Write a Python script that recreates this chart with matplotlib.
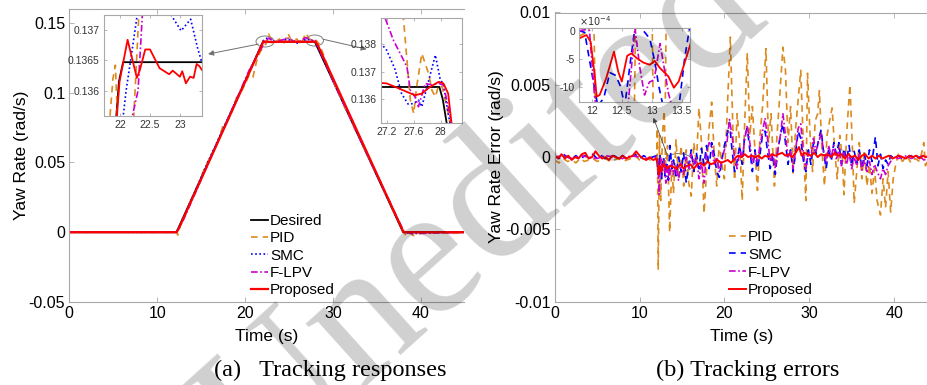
import numpy as np
import matplotlib.pyplot as plt
from matplotlib.patches import Ellipse

plt.rcParams['font.family'] = ['Liberation Sans', 'DejaVu Sans']
plt.rcParams['axes.unicode_minus'] = False

# ---------------- data : (a) tracking responses ----------------
desired_t = [0, 12.2, 22.05, 27.95, 38.0, 45]
desired_y = [0, 0, 0.1365, 0.1365, 0, 0]

pid_t = [0, 12.2, 12.35, 12.6, 13.0, 13.5, 14.0, 14.5, 15.0, 15.5, 16.0, 16.5, 17.0, 17.5, 18.0,
         18.5, 19.0, 19.5, 20.0, 20.5, 20.9, 21.3, 21.7, 22.1, 22.4, 22.7, 23.0, 23.4, 23.9, 24.4,
         24.9, 25.3, 25.9, 26.4, 26.9, 27.3, 27.7, 28.1, 28.5, 29.0, 29.5, 30.0, 30.5, 31.0, 31.5,
         32.0, 32.5, 33.0, 33.5, 34.0, 34.5, 35.0, 35.5, 36.0, 36.5, 37.0, 37.5, 38.0, 38.4, 38.8,
         39.2, 39.6, 40.2, 41, 42, 43.5, 45]
pid_y = [0, 0, -0.002, 0.004, 0.0095, 0.0165, 0.0255, 0.0305, 0.0395, 0.0475, 0.0535, 0.0590,
         0.0665, 0.0765, 0.0795, 0.0860, 0.0960, 0.1000, 0.1060, 0.1130, 0.1110, 0.1220, 0.1290,
         0.1330, 0.1350, 0.1420, 0.1380, 0.1360, 0.1385, 0.1350, 0.1425, 0.1370, 0.1385, 0.1345,
         0.1428, 0.1390, 0.1365, 0.1375, 0.1345, 0.1260, 0.1175, 0.1090, 0.1010, 0.0960, 0.0870,
         0.0820, 0.0735, 0.0690, 0.0605, 0.0545, 0.0480, 0.0410, 0.0355, 0.0265, 0.0220, 0.0130,
         0.0080, 0.0010, -0.0030, -0.0005, -0.0025, -0.0020, 0.0, -0.0005, 0.0, -0.001, 0]

smc_t = [0, 12.2, 13, 15.5, 18, 20.6, 22.1, 22.6, 23.5, 24.8, 26.0, 27.0, 27.95, 30, 35, 38.05, 38.6, 40, 45]
smc_y = [0, 0, 0.0105, 0.0465, 0.081, 0.1165, 0.1375, 0.1395, 0.136, 0.1385, 0.1355, 0.1385,
         0.1368, 0.110, 0.0415, 0.0002, -0.0005, 0, 0]

lpv_t = [0, 12.2, 13, 17, 20.5, 22.2, 22.7, 23.5, 24.9, 26.0, 26.9, 27.6, 28.0, 31, 35, 38.1, 39, 45]
lpv_y = [0, 0, 0.009, 0.066, 0.1165, 0.1355, 0.1392, 0.1365, 0.139, 0.1358, 0.1395, 0.1378,
         0.1372, 0.095, 0.041, 0.0005, -0.001, 0]

prop_t = [0, 12.2, 12.4, 22.1, 23.0, 25.0, 27.0, 28.0, 28.3, 38.05, 45]
prop_y = [0, 0, 0.0018, 0.1368, 0.1363, 0.1366, 0.1365, 0.1366, 0.1340, 0.0, 0]

# zoom window 1 (around t = 22 s)
z1_des_t = [21.93, 21.98, 22.05, 23.4]
z1_des_y = [0.1355, 0.13615, 0.13647, 0.13647]
z1_pid_t = [21.8, 21.88, 21.92, 21.97, 22.22, 22.32]
z1_pid_y = [0.1352, 0.1362, 0.13642, 0.1352, 0.1354, 0.1374]
z1_smc_t = [22.03, 22.1, 22.22, 22.3, 22.6, 22.84, 23.02, 23.18, 23.3, 23.37]
z1_smc_y = [0.1354, 0.1360, 0.1368, 0.13735, 0.1380, 0.13727, 0.13699, 0.13718, 0.13669, 0.13646]
z1_lpv_t = [22.1, 22.2, 22.3, 22.38]
z1_lpv_y = [0.1355, 0.13556, 0.1360, 0.1374]
z1_prop_t = [21.94, 21.99, 22.125, 22.28, 22.33, 22.42, 22.5, 22.66, 22.71, 22.82, 22.88, 23.0,
             23.04, 23.1, 23.17, 23.23, 23.28, 23.33, 23.37]
z1_prop_y = [0.1355, 0.13615, 0.13684, 0.13621, 0.13634, 0.13668, 0.13668, 0.13637, 0.13634,
             0.13627, 0.13633, 0.13623, 0.13632, 0.13612, 0.13623, 0.13621, 0.13644, 0.13640, 0.13634]

# zoom window 2 (around t = 28 s)
z2_des_t = [27.1, 27.98, 28.03, 28.09]
z2_des_y = [0.13645, 0.13645, 0.1360, 0.1351]
z2_pid_t = [27.35, 27.45, 27.55, 27.6, 27.64, 27.72, 27.77, 27.82, 27.87, 27.92, 27.97, 28.02, 28.09, 28.14]
z2_pid_y = [0.1395, 0.1389, 0.13597, 0.13548, 0.1364, 0.13767, 0.1373, 0.13694, 0.13633, 0.13609,
            0.13652, 0.13645, 0.13573, 0.1351]
z2_smc_t = [27.11, 27.2, 27.32, 27.42, 27.52, 27.6, 27.67, 27.72, 27.79, 27.92, 27.99, 28.04, 28.11, 28.14]
z2_smc_y = [0.13805, 0.13779, 0.13712, 0.13621, 0.13582, 0.13585, 0.13597, 0.13573, 0.13639,
            0.13761, 0.13676, 0.13652, 0.13548, 0.1351]
z2_lpv_t = [27.18, 27.3, 27.4, 27.5, 27.55, 27.62, 27.67, 27.77, 27.87, 27.97, 28.04, 28.09, 28.16]
z2_lpv_y = [0.13894, 0.13815, 0.13767, 0.13718, 0.13633, 0.13609, 0.13573, 0.13658, 0.13652,
            0.13658, 0.13652, 0.13597, 0.1351]
z2_prop_t = [27.11, 27.2, 27.35, 27.5, 27.62, 27.72, 27.84, 27.97, 28.04, 28.11, 28.16]
z2_prop_y = [0.1366, 0.13658, 0.13643, 0.13627, 0.13615, 0.13621, 0.13645, 0.13664, 0.13658,
             0.13621, 0.13512]

# ---------------- data : (b) tracking errors (x 1e-3 rad/s) ----------------
pid_et = [0, 0.5, 1, 1.5, 2, 2.5, 3, 3.5, 4, 4.5, 5, 5.5, 6, 6.5, 7, 7.5, 8, 8.5, 9, 9.5, 10, 10.5,
          11, 11.5, 12, 12.1, 12.2, 12.35, 12.5, 12.7, 12.9, 13.1, 13.3, 13.55, 13.8, 14.0, 14.3,
          14.6, 14.9, 15.2, 15.5, 15.8, 16.1, 16.4, 16.7, 17.0, 17.3, 17.6, 17.9, 18.2, 18.5, 18.8,
          19.1, 19.4, 19.7, 20.0, 20.4, 20.7, 21.0, 21.2, 21.5, 21.8, 22.1, 22.4, 22.7, 23.0, 23.3,
          23.6, 23.9, 24.2, 24.5, 24.9, 25.2, 25.5, 25.9, 26.2, 26.5, 26.9, 27.2, 27.5, 27.8, 28.1,
          28.4, 28.7, 29.0, 29.3, 29.6, 29.8, 30.1, 30.4, 30.7, 31.0, 31.2, 31.5, 31.8, 32.1, 32.4,
          32.7, 33.0, 33.3, 33.6, 33.9, 34.1, 34.4, 34.8, 35.1, 35.3, 35.6, 35.9, 36.2, 36.5, 36.8,
          37.1, 37.4, 37.7, 38.0, 38.4, 38.7, 39.0, 39.3, 39.6, 39.9, 40.2, 40.5, 41, 41.5, 42, 42.5,
          43, 43.3, 43.5, 43.7, 44]
pid_e = [-0.2, -0.4, -0.1, -0.3, -0.2, -0.4, -0.1, -0.3, -0.2, -0.1, -0.3, -0.2, -0.1, -0.3, -0.2,
         -0.1, -0.3, -0.2, -0.1, 0.1, -0.2, -0.2, -0.1, -0.3, -0.2, 2.0, -7.8, 1.5, -3.0, 1.5, 3.2,
         -1.0, 0.8, -5.2, -0.5, -2.5, 1.2, -1.5, 0.8, -2.0, 0.5, -1.8, -2.7, 1.0, -0.5, 3.4, 1.0,
         -3.9, -1.0, 2.0, 3.8, 0.2, -2.0, 1.0, -0.5, -1.5, 4.0, 8.3, 2.0, -1.6, 3.0, 1.0, -3.0, 2.5,
         7.2, 1.5, 3.5, 0.5, -2.3, 1.5, 3.5, 7.5, 1.0, 3.0, -2.0, 1.5, 4.0, 7.6, 6.0, 1.0, 3.5, -1.1,
         2.0, 4.0, 6.0, 1.0, -3.0, 5.8, 1.5, -1.0, 2.5, 3.0, 4.6, 0.5, -2.0, 1.5, 2.5, 3.4, 0.5,
         -1.5, 1.5, 0.0, -2.6, 1.5, 5.0, 0.5, -3.2, -1.0, 1.0, -1.5, 0.5, -2.0, -0.5, -2.5, -0.8,
         -3.0, -4.0, -1.5, -3.5, -1.0, -3.8, -1.5, -0.5, 0.2, -0.3, 0.1, -0.4, -0.1, -0.3, 0.4, 1.0,
         -0.6, -0.2]

smc_et = [0, 0.5, 1, 1.5, 2, 2.5, 3, 3.5, 4, 4.5, 5, 5.5, 6, 6.5, 7, 7.5, 8, 8.5, 9, 9.5, 10, 10.5,
          11, 11.5, 12, 12.2, 12.4, 12.6, 12.8, 13.0, 13.2, 13.4, 13.6, 13.8, 14.0, 14.3, 14.6, 14.9,
          15.2, 15.5, 15.8, 16.1, 16.4, 16.7, 17.0, 17.3, 17.6, 17.9, 18.2, 18.5, 18.8, 19.1, 19.4,
          19.7, 20.0, 20.3, 20.6, 20.9, 21.2, 21.5, 21.8, 22.1, 22.4, 22.7, 23.0, 23.3, 23.6, 23.9,
          24.2, 24.5, 24.8, 25.1, 25.4, 25.7, 26.0, 26.3, 26.6, 26.9, 27.2, 27.5, 27.8, 28.1, 28.4,
          28.7, 29.0, 29.3, 29.6, 29.9, 30.2, 30.5, 30.8, 31.1, 31.4, 31.7, 32.0, 32.3, 32.6, 32.9,
          33.2, 33.5, 33.8, 34.1, 34.4, 34.7, 35.0, 35.3, 35.6, 35.9, 36.2, 36.5, 36.8, 37.1, 37.4,
          37.8, 38.1, 38.4, 38.7, 39.0, 39.3, 39.6, 40.0, 40.5, 41, 41.5, 42, 42.5, 43, 43.5, 44]
smc_e = [0.1, -0.1, 0.2, 0.0, -0.1, 0.1, -0.2, 0.1, 0.0, 0.2, -0.1, 0.1, -0.1, 0.0, 0.1, -0.1, 0.1,
         -0.1, 0.0, 0.2, -0.1, 0.1, -0.1, 0.0, 0.1, -1.2, 0.2, -1.5, 0.0, -1.3, -0.3, -1.6, 0.8,
         -0.8, -0.2, -1.3, 0.0, -1.0, 0.3, -1.8, -0.5, 0.5, -1.0, 0.3, -0.8, 0.6, -0.5, 0.8, -0.8,
         1.0, 0.2, -1.0, -1.4, -0.2, 0.8, 1.5, 2.4, 0.5, -1.0, -0.3, 0.8, -0.5, 1.5, 2.0, 0.5, -1.0,
         0.5, -0.8, 0.2, 1.6, 1.8, 0.3, -0.8, 0.2, -1.2, 0.5, 1.5, 2.3, 1.0, -0.5, 0.5, -1.0, 0.3,
         1.8, 1.3, -0.2, -1.0, 0.5, -0.5, 1.0, 0.2, 1.2, 1.9, 0.3, -0.8, 0.6, -0.3, 1.0, 0.2, 1.0,
         -0.5, 0.6, -0.2, 0.8, -0.6, 0.4, -0.4, 0.5, -0.8, 0.2, -0.6, 0.5, -0.3, 1.4, -0.6, 0.2,
         -0.8, -0.2, -0.5, 0.1, -0.1, 0.1, -0.1, 0.0, 0.1, -0.1, 0.0, 0.1, 0.0]

lpv_et = [0, 1, 2, 3, 4, 5, 6, 7, 8, 9, 10, 11, 12, 12.2, 12.3, 12.5, 12.7, 12.9, 13.1, 13.3, 13.5,
          13.8, 14.0, 14.3, 14.6, 14.9, 15.2, 15.5, 15.8, 16.1, 16.4, 16.7, 17.0, 17.3, 17.6, 17.9,
          18.2, 18.5, 18.8, 19.1, 19.4, 19.7, 20.0, 20.3, 20.6, 20.9, 21.2, 21.5, 21.8, 22.1, 22.4,
          22.7, 23.0, 23.3, 23.6, 23.9, 24.2, 24.5, 24.8, 25.1, 25.4, 25.7, 26.0, 26.3, 26.6, 26.9,
          27.2, 27.5, 27.8, 28.1, 28.4, 28.7, 29.0, 29.3, 29.6, 29.9, 30.2, 30.5, 30.8, 31.1, 31.4,
          31.7, 32.0, 32.3, 32.6, 32.9, 33.2, 33.5, 33.8, 34.1, 34.4, 34.7, 35.0, 35.3, 35.6, 35.9,
          36.2, 36.5, 36.8, 37.1, 37.4, 37.7, 38.0, 38.4, 38.7, 39.0, 39.3, 39.6, 40.0, 40.5, 41,
          41.5, 42, 42.5, 43, 43.5, 44]
lpv_e = [0.0, 0.1, -0.1, 0.1, 0.0, -0.1, 0.1, 0.0, -0.1, 0.1, 0.0, -0.1, 0.0, -0.5, -2.6, 0.0,
         -1.0, -0.2, -1.8, -0.5, -1.5, -0.3, -1.2, -0.6, -1.6, -0.4, -1.2, 0.0, -0.8, 0.2, -0.5,
         0.0, -1.5, -0.3, -1.8, 0.3, 1.0, 0.8, -0.5, 0.0, -1.0, -0.2, 0.5, 1.0, 2.6, 1.5, 0.0,
         -0.8, 0.5, 0.0, 1.2, 2.2, 1.0, -0.5, 0.3, -0.3, 0.8, 1.8, 2.7, 1.2, -0.3, 0.3, -0.8, 0.5,
         1.5, 3.0, 1.5, 0.0, 0.5, -0.8, 0.5, 2.0, 2.3, 0.3, -0.8, 0.3, 0.0, 1.3, 0.4, 1.0, 1.6, 0.4,
         -0.4, 0.8, 0.0, 0.8, -0.2, 0.6, -0.6, 0.3, -0.5, 0.3, -0.8, 0.0, -0.6, 0.2, -0.9, -0.2,
         -1.0, -0.3, -1.2, -0.5, -1.0, -1.5, -0.8, -1.2, -0.6, -0.3, 0.0, -0.1, 0.0, 0.1, -0.1, 0.0,
         0.1, -0.2, -0.1]

prop_et = [0, 0.4, 0.8, 1.2, 1.6, 2.0, 2.4, 2.8, 3.2, 3.6, 4.0, 4.4, 4.8, 5.2, 5.6, 6.0, 6.4, 6.8,
           7.2, 7.6, 8.0, 8.4, 8.8, 9.2, 9.6, 10.0, 10.4, 10.8, 11.2, 11.6, 12.0, 12.15, 12.25,
           12.4, 12.6, 12.8, 13.0, 13.3, 13.6, 14.0, 14.4, 14.8, 15.2, 15.6, 16.0, 16.4, 16.8,
           17.2, 17.6, 18.0, 18.4, 18.8, 19.2, 19.6, 20.0, 20.4, 20.8, 21.2, 21.6, 22.0, 22.4,
           22.8, 23.2, 23.6, 24.0, 24.4, 24.8, 25.2, 25.6, 26.0, 26.4, 26.8, 27.2, 27.6, 28.0,
           28.4, 28.8, 29.1, 29.4, 29.8, 30.2, 30.6, 31.0, 31.4, 31.8, 32.2, 32.6, 33.0, 33.4,
           33.8, 34.2, 34.6, 35.0, 35.4, 35.8, 36.2, 36.6, 37.0, 37.4, 37.8, 38.2, 38.6, 39.0,
           39.4, 39.8, 40.2, 40.6, 41.0, 41.4, 41.8, 42.2, 42.6, 43.0, 43.4, 43.8, 44]
prop_e = [0.1, -0.1, 0.2, -0.1, 0.1, -0.2, 0.0, -0.1, 0.2, 0.3, -0.1, 0.0, 0.4, 0.1, -0.1, 0.0,
          -0.2, 0.1, 0.0, -0.1, 0.1, -0.1, 0.0, 0.1, 0.4, 0.1, -0.1, -0.2, 0.0, -0.2, -0.1, -0.4,
          -1.2, -0.6, -1.0, -0.5, -0.6, -0.8, -0.6, -0.7, -0.8, -0.5, -0.8, -0.6, -0.5, -0.8, -0.5,
          -0.4, -0.6, -0.3, -0.5, -0.4, -0.2, -0.4, -0.3, -0.2, -0.4, -0.1, 0.1, 0.0, 0.2, 0.0, 0.1,
          0.0, 0.1, -0.1, 0.1, 0.0, 0.2, 0.1, 0.2, 0.3, 0.1, 0.2, 0.0, 0.3, 0.7, 0.1, 0.3, 0.2, 0.1,
          0.3, 0.0, 0.2, 0.1, 0.2, 0.0, 0.3, 0.1, 0.2, -0.1, 0.2, 0.0, 0.1, -0.2, 0.1, 0.2, -0.1,
          0.1, -0.1, 0.1, -0.1, 0.0, 0.1, -0.1, 0.0, 0.1, 0.0, -0.1, 0.1, 0.0, 0.1, -0.1, 0.1, 0.0,
          0.1]

# zoom window 3 (errors, x 1e-4 rad/s)
z3_pid_t = [11.79, 11.95, 12.02, 12.1, 12.68, 12.74, 13.0, 13.05, 13.2, 13.25]
z3_pid_e = [-1, 0, 10, -40, -40, 10, 10, -40, -40, 10]
z3_smc_t = [11.79, 11.88, 11.96, 12.05, 12.1, 12.2, 12.3, 12.4, 12.48, 12.55, 12.65, 12.72, 12.82,
            12.9, 12.97, 13.05, 13.12, 13.2, 13.45, 13.55, 13.64]
z3_smc_e = [0, -0.3, -5.2, -10.6, -13.5, -12, -7.5, -8, -10, -13.5, -5, 0.5, 0.5, -0.5, -1.5,
            -5.5, -10, -14, -14, -5, 1]
z3_lpv_t = [11.79, 11.9, 11.96, 12.05, 12.1, 12.6, 12.72, 12.8, 12.88, 12.96, 13.04, 13.14, 13.28, 13.35]
z3_lpv_e = [0, 0.2, 0, -12.4, -14, -14, 0.5, -6.5, -11.5, -9.2, -8.8, -2.3, -11.2, -14]
z3_prop_t = [11.79, 11.91, 11.98, 12.05, 12.08, 12.13, 12.24, 12.37, 12.44, 12.5, 12.59, 12.66,
             12.75, 12.86, 12.97, 13.05, 13.14, 13.28, 13.37, 13.45, 13.54, 13.65]
z3_prop_e = [-1.37, -0.77, -2.0, -8.2, -11.8, -11.5, -8.5, -3.75, -7.3, -9.1, -4.5, -4.05, -4.9,
             -5.7, -6.1, -5.4, -6.7, -8.2, -10.2, -9.1, -6.1, -2.3]

# ---------------- style ----------------
c_pid = '#DC8A1E'
c_smc = '#0000FF'
c_lpv = '#CC00CC'
c_prop = '#FF0000'
spine_c = '#A8A8A8'
dash = (0, (4, 3))
dot = (0, (1, 1.5))
dashdot = (0, (4, 1.5, 1, 1.5))

W, H = 928, 385
fig = plt.figure(figsize=(W / 100, H / 100), dpi=100)


def px_axes(x0, y0, x1, y1):
    return fig.add_axes([x0 / W, 1 - y1 / H, (x1 - x0) / W, (y1 - y0) / H])


def style_axes(ax, size, right=True):
    for s in ax.spines.values():
        s.set_color(spine_c)
        s.set_linewidth(0.8)
    if not right:
        ax.spines['right'].set_visible(False)
    ax.tick_params(direction='in', top=True, right=right, length=3.5, width=0.6,
                   color=spine_c, labelsize=size, pad=3, labelcolor='black')


# ---------------- (a) ----------------
axa = px_axes(69.3, 9, 464, 302)
axa.plot(desired_t, desired_y, color='black', lw=1.3, label='Desired')
axa.plot(pid_t, pid_y, color=c_pid, lw=1.2, ls=dash, label='PID')
axa.plot(smc_t, smc_y, color=c_smc, lw=1.2, ls=dot, label='SMC')
axa.plot(lpv_t, lpv_y, color=c_lpv, lw=1.2, ls=dashdot, label='F-LPV')
axa.plot(prop_t, prop_y, color=c_prop, lw=1.6, label='Proposed')
axa.set_xlim(0, 44.93)
axa.set_ylim(-0.05, 0.16)
axa.set_xticks([0, 10, 20, 30, 40])
axa.set_yticks([-0.05, 0, 0.05, 0.1, 0.15])
axa.set_yticklabels(['-0.05', '0', '0.05', '0.1', '0.15'])
style_axes(axa, 11.5, right=False)
axa.set_xlabel('Time (s)', fontsize=12.5, labelpad=6)
axa.set_ylabel('Yaw Rate (rad/s)', fontsize=12.5, labelpad=0)
axa.add_patch(Ellipse((22.28, 0.1367), 2.05, 0.0079, fill=False, ec='#808080', lw=0.7))
axa.add_patch(Ellipse((27.93, 0.1374), 2.0, 0.0079, fill=False, ec='#808080', lw=0.7))
axa.annotate('', xy=(15.8, 0.1277), xytext=(21.5, 0.1348),
             arrowprops=dict(arrowstyle='-|>', color='#707070', lw=0.7, mutation_scale=8,
                             shrinkA=0, shrinkB=0))
axa.annotate('', xy=(33.85, 0.1312), xytext=(28.9, 0.1383),
             arrowprops=dict(arrowstyle='-|>', color='#707070', lw=0.7, mutation_scale=8,
                             shrinkA=0, shrinkB=0))
axa.legend(loc='upper left', bbox_to_anchor=(251 / W, 1 - 214 / H), bbox_transform=fig.transFigure,
           frameon=False, fontsize=11, handlelength=1.1, handletextpad=0.15, labelspacing=0.22,
           borderpad=0, borderaxespad=0)

# inset 1
ia = px_axes(104, 15, 202, 116)
ia.plot(z1_des_t, z1_des_y, color='black', lw=1.3)
ia.plot(z1_pid_t, z1_pid_y, color=c_pid, lw=1.2, ls=dash)
ia.plot(z1_smc_t, z1_smc_y, color=c_smc, lw=1.2, ls=dot)
ia.plot(z1_lpv_t, z1_lpv_y, color=c_lpv, lw=1.2, ls=dashdot)
ia.plot(z1_prop_t, z1_prop_y, color=c_prop, lw=1.3)
ia.set_xlim(21.73, 23.37)
ia.set_ylim(0.13558, 0.13725)
ia.set_xticks([22, 22.5, 23])
ia.set_xticklabels(['22', '22.5', '23'])
ia.set_yticks([0.136, 0.1365, 0.137])
ia.set_yticklabels(['0.136', '0.1365', '0.137'])
style_axes(ia, 7.5)
ia.tick_params(labelcolor='#333333', length=2)

# inset 2
ib = px_axes(381, 18.3, 461.7, 122.7)
ib.plot(z2_des_t, z2_des_y, color='black', lw=1.3)
ib.plot(z2_pid_t, z2_pid_y, color=c_pid, lw=1.2, ls=dash)
ib.plot(z2_smc_t, z2_smc_y, color=c_smc, lw=1.2, ls=dot)
ib.plot(z2_lpv_t, z2_lpv_y, color=c_lpv, lw=1.2, ls=dashdot)
ib.plot(z2_prop_t, z2_prop_y, color=c_prop, lw=1.3)
ib.set_xlim(27.116, 28.31)
ib.set_ylim(0.13515, 0.13895)
ib.set_xticks([27.2, 27.6, 28])
ib.set_xticklabels(['27.2', '27.6', '28'])
ib.set_yticks([0.136, 0.137, 0.138])
ib.set_yticklabels(['0.136', '0.137', '0.138'])
style_axes(ib, 7.5)
ib.tick_params(labelcolor='#333333', length=2)

# ---------------- (b) ----------------
axb = px_axes(554.7, 12.5, 928, 301.7)
axb.plot(pid_et, np.array(pid_e) * 1e-3, color=c_pid, lw=1.2, ls=dash, label='PID')
axb.plot(smc_et, np.array(smc_e) * 1e-3, color=c_smc, lw=1.2, ls=dash, label='SMC')
axb.plot(lpv_et, np.array(lpv_e) * 1e-3, color=c_lpv, lw=1.2, ls=dashdot, label='F-LPV')
axb.plot(prop_et, np.array(prop_e) * 1e-3, color=c_prop, lw=1.4, label='Proposed')
axb.set_xlim(0, 44.0)
axb.set_ylim(-0.01, 0.01)
axb.set_xticks([0, 10, 20, 30, 40])
axb.set_yticks([-0.01, -0.005, 0, 0.005, 0.01])
axb.set_yticklabels(['-0.01', '-0.005', '0', '0.005', '0.01'])
style_axes(axb, 11.5, right=False)
axb.set_xlabel('Time (s)', fontsize=12.5, labelpad=6)
axb.set_ylabel('Yaw Rate Error (rad/s)', fontsize=12.5, labelpad=1)
axb.add_patch(Ellipse((14.6, -0.0004), 3.6, 0.0013, fill=False, ec='#606060', lw=0.6))
axb.annotate('', xy=(11.64, 0.00272), xytext=(13.3, 0.0001),
             arrowprops=dict(arrowstyle='-|>', color='#505050', lw=0.6, mutation_scale=7,
                             shrinkA=0, shrinkB=0))
axb.legend(loc='upper left', bbox_to_anchor=(729 / W, 1 - 230 / H), bbox_transform=fig.transFigure,
           frameon=False, fontsize=11, handlelength=1.1, handletextpad=0.15, labelspacing=0.25,
           borderpad=0, borderaxespad=0)

ic = px_axes(579.3, 28.3, 690, 101.7)
ic.plot(z3_pid_t, z3_pid_e, color=c_pid, lw=1.2, ls=dash)
ic.plot(z3_smc_t, z3_smc_e, color=c_smc, lw=1.2, ls=dash)
ic.plot(z3_lpv_t, z3_lpv_e, color=c_lpv, lw=1.2, ls=dashdot)
ic.plot(z3_prop_t, z3_prop_e, color=c_prop, lw=1.3)
ic.set_xlim(11.79, 13.64)
ic.set_ylim(-12.7, 0.43)
ic.set_xticks([12, 12.5, 13, 13.5])
ic.set_xticklabels(['12', '12.5', '13', '13.5'])
ic.set_yticks([-10, -5, 0])
ic.set_yticklabels(['-10', '-5', '0'])
style_axes(ic, 7.5)
ic.tick_params(labelcolor='#333333', length=2)
ic.text(0.0, 1.01, r'$\times10^{-4}$', transform=ic.transAxes, fontsize=7, color='#333333',
        va='bottom', ha='left')

# captions
fig.text(330 / W, 1 - 370 / H, '(a)   Tracking responses', fontsize=17.5, family='Liberation Serif',
         ha='center', va='center')
fig.text(748 / W, 1 - 370 / H, '(b) Tracking errors', fontsize=17.5, family='Liberation Serif',
         ha='center', va='center')

# watermark
fig.text(485 / W, 1 - 215 / H, 'Unedited', fontsize=135, family='Liberation Serif', color='black',
         alpha=0.19, rotation=42, ha='center', va='center', zorder=10)

fig.savefig('out.png', dpi=100)
